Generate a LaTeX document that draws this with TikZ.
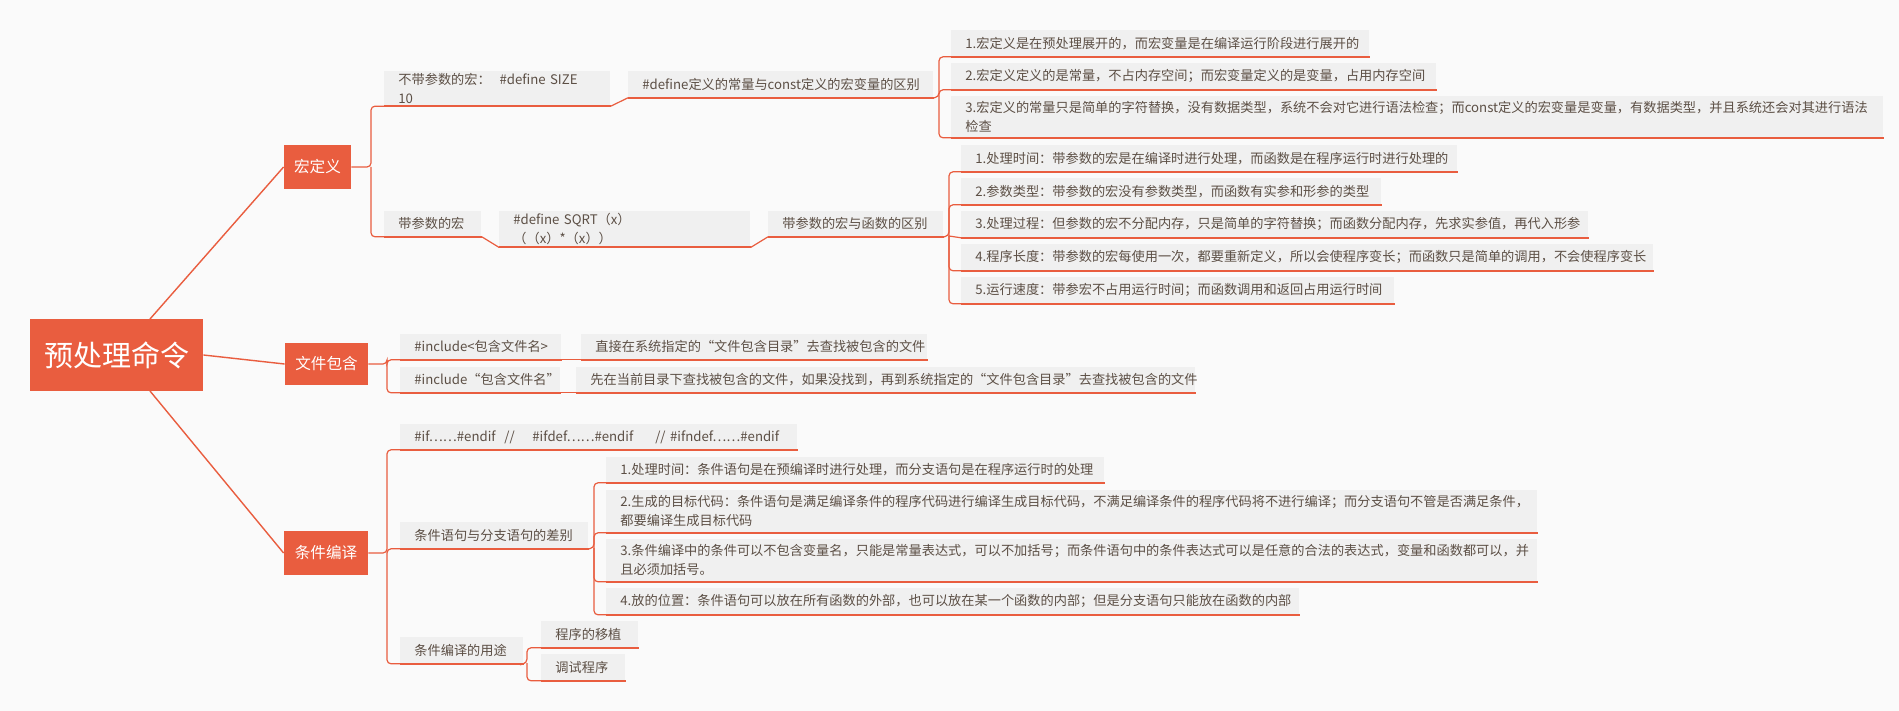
\documentclass[tikz,border=0pt]{standalone}
\usepackage{fontspec}
\setmainfont{Noto Sans CJK SC}
\definecolor{org}{HTML}{E95D3F}
\definecolor{gbox}{HTML}{F0F0F0}
\definecolor{txt}{HTML}{5C4F45}
\definecolor{bg}{HTML}{FAFAFA}
\tikzset{
  itembox/.style={fill=gbox,anchor=north west,inner xsep=7pt,inner ysep=1pt,align=left,text=txt,font=\fontsize{6.6pt}{9.5pt}\selectfont},
  topbox/.style={fill=org,text=white,inner sep=0pt},
  ul/.style={draw=org,line width=1.1pt},
  conn/.style={draw=org,line width=0.6pt,rounded corners=2pt},
}
% name, x1, x2, ytop, ybot, text
\newcommand\itm[6]{%
  \pgfmathsetmacro\tw{(#3-#2)*0.5-7}%
  \pgfmathsetmacro\mh{(#5-#4)*0.5}%
  \node[itembox,text width=\tw pt,minimum height=\mh pt] (#1) at (#2,#4) {#6};
  \draw[ul] (#1.south west) -- (#1.south east);
}
\begin{document}
\begin{tikzpicture}[x=0.5pt,y=-0.5pt]
\fill[bg] (0,0) rectangle (1899,711);
\useasboundingbox (0,0) rectangle (1899,711);
% root and level 1
\node[topbox,minimum width=86.5pt,minimum height=36pt,font=\fontsize{14.5pt}{16pt}\selectfont] (root) at (116.5,355) {预处理命令};
\node[topbox,minimum width=33.5pt,minimum height=22pt,font=\fontsize{7.8pt}{9pt}\selectfont] (hong) at (317.5,167) {宏定义};
\node[topbox,minimum width=41.5pt,minimum height=21pt,font=\fontsize{7.8pt}{9pt}\selectfont] (wj) at (326.5,364) {文件包含};
\node[topbox,minimum width=42pt,minimum height=22pt,font=\fontsize{7.8pt}{9pt}\selectfont] (tj) at (326,553) {条件编译};
\draw[org,line width=0.7pt] (150,319) -- (hong.west);
\draw[org,line width=0.7pt] (root.east) -- (wj.west);
\draw[org,line width=0.7pt] (150,391) -- (tj.west);
% macro branch
\itm{a1}{384}{596}{71}{97}{不带参数的宏：\ \ \#define SIZE\ \ 10}
\itm{a2}{628}{919}{71}{97}{\#define定义的常量与const定义的宏变量的区别}
\itm{a11}{951}{1355}{30}{56}{1.宏定义是在预处理展开的，而宏变量是在编译运行阶段进行展开的}
\itm{a12}{951}{1422}{63}{89}{2.宏定义定义的是常量，不占内存空间；而宏变量定义的是变量，占用内存空间}
\itm{a13}{951}{1869}{96}{137}{3.宏定义的常量只是简单的字符替换，没有数据类型，系统不会对它进行语法检查；而const定义的宏变量是变量，有数据类型，并且系统还会对其进行语法\\检查}
\itm{b1}{384}{467}{211}{236}{带参数的宏}
\itm{b2}{499}{736}{211}{236}{\#define SQRT（x）\ \ （（x）*（x））}
\itm{b3}{768}{929}{211}{236}{带参数的宏与函数的区别}
\itm{b31}{961}{1443}{145}{171}{1.处理时间：带参数的宏是在编译时进行处理，而函数是在程序运行时进行处理的}
\itm{b32}{961}{1367}{178}{204}{2.参数类型：带参数的宏没有参数类型，而函数有实参和形参的类型}
\itm{b33}{961}{1574}{211}{237}{3.处理过程：但参数的宏不分配内存，只是简单的字符替换；而函数分配内存，先求实参值，再代入形参}
\itm{b34}{961}{1639}{244}{270}{4.程序长度：带参数的宏每使用一次，都要重新定义，所以会使程序变长；而函数只是简单的调用，不会使程序变长}
\itm{b35}{961}{1380}{277}{303}{5.运行速度：带参宏不占用运行时间；而函数调用和返回占用运行时间}
\draw[conn] (hong.east) -- (371,167) |- (a1.south west);
\draw[conn] (371,167) |- (b1.south west);
\draw[ul,line width=0.6pt] (a1.south east) -- (a2.south west);
\draw[conn] (a2.south east) -- (939,97) |- (a11.south west);
\draw[conn] (939,97) |- (a12.south west);
\draw[conn] (939,97) |- (a13.south west);
\draw[ul,line width=0.6pt] (b1.south east) -- (b2.south west);
\draw[ul,line width=0.6pt] (b2.south east) -- (b3.south west);
\draw[conn] (b3.south east) -- (949,236) |- (b31.south west);
\draw[conn] (949,236) |- (b32.south west);
\draw[conn] (949,236) -- (b33.south west);
\draw[conn] (949,236) |- (b34.south west);
\draw[conn] (949,236) |- (b35.south west);
% include branch
\itm{c1}{400}{547}{334}{359}{\#include<包含文件名>}
\itm{c2}{581}{913}{334}{359}{直接在系统指定的“文件包含目录”去查找被包含的文件}
\itm{c3}{400}{546}{367}{392}{\#include“包含文件名”}
\itm{c4}{576}{1181}{367}{392}{先在当前目录下查找被包含的文件，如果没找到，再到系统指定的“文件包含目录”去查找被包含的文件}
\draw[conn] (wj.east) -- (387,364) |- (c1.south west);
\draw[conn] (387,364) |- (c3.south west);
\draw[ul,line width=0.6pt] (c1.south east) -- (c2.south west);
\draw[ul,line width=0.6pt] (c3.south east) -- (c4.south west);
% conditional branch
\itm{d1}{400}{783}{424}{449}{\#if……\#endif\ \ //\ \ \ \ \#ifdef……\#endif\ \ \ \ \ // \#ifndef……\#endif}
\itm{d2}{400}{574}{522}{548}{条件语句与分支语句的差别}
\itm{d3}{400}{509}{637}{663}{条件编译的用途}
\itm{d21}{606}{1090}{457}{482}{1.处理时间：条件语句是在预编译时进行处理，而分支语句是在程序运行时的处理}
\itm{d22}{606}{1523}{490}{532}{2.生成的目标代码：条件语句是满足编译条件的程序代码进行编译生成目标代码，不满足编译条件的程序代码将不进行编译；而分支语句不管是否满足条件，\\都要编译生成目标代码}
\itm{d23}{606}{1523}{539}{581}{3.条件编译中的条件可以不包含变量名，只能是常量表达式，可以不加括号；而条件语句中的条件表达式可以是任意的合法的表达式，变量和函数都可以，并\\且必须加括号。}
\itm{d24}{606}{1285}{588}{614}{4.放的位置：条件语句可以放在所有函数的外部，也可以放在某一个函数的内部；但是分支语句只能放在函数的内部}
\itm{d31}{541}{624}{621}{647}{程序的移植}
\itm{d32}{541}{611}{654}{680}{调试程序}
\draw[conn] (tj.east) -- (387,553) |- (d1.south west);
\draw[conn] (387,553) |- (d2.south west);
\draw[conn] (387,553) |- (d3.south west);
\draw[conn] (d2.south east) -- (594,548) |- (d21.south west);
\draw[conn] (594,548) |- (d22.south west);
\draw[conn] (594,548) |- (d23.south west);
\draw[conn] (594,548) |- (d24.south west);
\draw[conn] (d3.south east) -- (527,663) |- (d31.south west);
\draw[conn] (527,663) |- (d32.south west);
\end{tikzpicture}
\end{document}
